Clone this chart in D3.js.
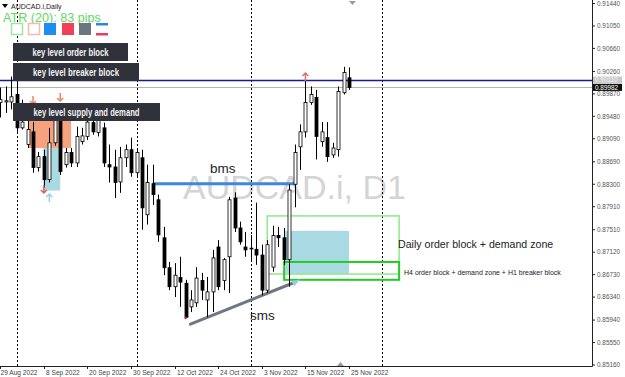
<!DOCTYPE html>
<html>
<head>
<meta charset="utf-8"/>
<title>AUDCAD.i Daily</title>
<script src="https://d3js.org/d3.v7.min.js"></script>
<style>
body{margin:0;background:#fff;}
svg{display:block;font-family:"Liberation Sans",Arial,sans-serif;}
</style>
</head>
<body>
<div id="chart"></div>
<script>
// one bar per trading day, index 0 = 29 Aug 2022, index 64 = 25 Nov 2022
var opens = [0.8972,0.8973,0.8973,0.8986,0.8928,0.8899,0.8921,0.8859,0.8878,0.8838,
    0.8902,0.8963,0.8864,0.8885,0.8867,0.8904,0.8913,0.8937,0.8920,0.8928,
    0.8864,0.8860,0.8834,0.8876,0.8890,0.8850,0.8876,0.8777,0.8831,0.8803,
    0.8737,0.8685,0.8652,0.8668,0.8658,0.8617,0.8624,0.8663,0.8629,0.8643,
    0.8721,0.8663,0.8704,0.8806,0.8754,0.8721,0.8719,0.8717,0.8707,0.8646,
    0.8686,0.8741,0.8737,0.8699,0.8830,0.8895,0.8921,0.8972,0.8981,0.8904,
    0.8911,0.8881,0.8890,0.8989,0.9015];
var highs = [0.8998,0.9000,0.9017,0.9017,0.8977,0.8942,0.8938,0.8886,0.8890,0.8928,
    0.8968,0.8970,0.8893,0.8893,0.8930,0.8928,0.8946,0.8954,0.8956,0.8937,
    0.8899,0.8890,0.8895,0.8899,0.8911,0.8890,0.8890,0.8864,0.8864,0.8812,
    0.8756,0.8695,0.8693,0.8704,0.8664,0.8646,0.8686,0.8676,0.8669,0.8716,
    0.8733,0.8702,0.8808,0.8816,0.8765,0.8747,0.8742,0.8798,0.8725,0.8733,
    0.8758,0.8756,0.8754,0.8830,0.8899,0.8934,0.9020,0.9000,0.8994,0.8938,
    0.8938,0.8902,0.9000,0.9034,0.9033];
var lows = [0.8946,0.8954,0.8960,0.8921,0.8925,0.8893,0.8850,0.8852,0.8824,0.8833,
    0.8897,0.8846,0.8859,0.8860,0.8860,0.8899,0.8907,0.8916,0.8913,0.8860,
    0.8833,0.8806,0.8815,0.8860,0.8843,0.8843,0.8751,0.8760,0.8794,0.8730,
    0.8672,0.8646,0.8634,0.8617,0.8598,0.8608,0.8617,0.8629,0.8599,0.8608,
    0.8646,0.8646,0.8641,0.8747,0.8725,0.8704,0.8695,0.8690,0.8637,0.8641,
    0.8678,0.8721,0.8690,0.8652,0.8790,0.8855,0.8911,0.8968,0.8873,0.8895,
    0.8869,0.8876,0.8878,0.8986,0.8994];
var closes = [0.8977,0.8975,0.8982,0.8928,0.8938,0.8925,0.8859,0.8878,0.8838,0.8902,
    0.8946,0.8852,0.8885,0.8867,0.8913,0.8914,0.8938,0.8921,0.8942,0.8867,
    0.8860,0.8833,0.8876,0.8890,0.8850,0.8885,0.8789,0.8833,0.8812,0.8742,
    0.8685,0.8652,0.8672,0.8660,0.8599,0.8629,0.8667,0.8646,0.8643,0.8702,
    0.8652,0.8699,0.8803,0.8754,0.8730,0.8716,0.8719,0.8707,0.8646,0.8725,
    0.8741,0.8737,0.8699,0.8820,0.8885,0.8921,0.8972,0.8986,0.8913,0.8921,
    0.8878,0.8893,0.8991,0.9024,0.89982];

var dateLabels = ["29 Aug 2022","8 Sep 2022","20 Sep 2022","30 Sep 2022","12 Oct 2022",
    "24 Oct 2022","3 Nov 2022","15 Nov 2022","25 Nov 2022"];
var dateIdx = [0,8,16,24,32,40,48,56,64];
var priceTicks = [0.91440,0.91050,0.90660,0.90260,0.89870,0.89480,0.89090,0.88690,
    0.88300,0.87910,0.87510,0.87120,0.86730,0.86340,0.85940,0.85550,0.85160];
// month separators (bar index)
var separatorIdx = [3,25,46,70];

// drawn objects, in bar index / price
var levelPrice = 0.9011;      // horizontal navy line
var bidPrice = 0.89982;
var bms = [28, 54.3, 0.8831];
var sms = [[34.9, 0.8587], [53.6, 0.8658]];
var supplyZone = [5.1, 13.0, 0.8970, 0.8893];
var demandZoneLeft = [7.9, 11.0, 0.8893, 0.8819];
var dailyOB = [49.0, 73.2, 0.8775, 0.8674];
var dailyFill = [52.3, 64.0, 0.8749, 0.8674];
var h4OB = [52.1, 73.2, 0.8695, 0.8664];

var W = 625, H = 377, plotW = 592, plotH = 366;

var svg = d3.select("#chart").append("svg")
    .attr("width", W).attr("height", H);

var x = d3.scaleLinear().domain([0, 64]).range([0.3, 349]);
var y = d3.scaleLinear().domain([0.8516, 0.9144]).range([365, 3.5]);

svg.append("clipPath").attr("id", "clip")
    .append("rect").attr("width", plotW).attr("height", plotH);

var plot = svg.append("g").attr("clip-path", "url(#clip)");

// watermark
plot.append("text")
    .attr("x", 183).attr("y", 199)
    .style("font-size", "34px")
    .style("fill", "#d4d4d4")
    .text("AUDCAD.i, D1");

// separators
plot.selectAll(".sep").data(separatorIdx).enter().append("line")
    .attr("x1", function(d){ return Math.round(x(d)) + 0.5; })
    .attr("x2", function(d){ return Math.round(x(d)) + 0.5; })
    .attr("y1", 0).attr("y2", plotH)
    .attr("stroke", "#000").attr("stroke-width", 1)
    .attr("stroke-dasharray", "2,2");

function zone(z, fill, stroke, sw) {
    plot.append("rect")
        .attr("x", x(z[0])).attr("y", y(z[2]))
        .attr("width", x(z[1]) - x(z[0]))
        .attr("height", y(z[3]) - y(z[2]))
        .attr("fill", fill)
        .attr("stroke", stroke)
        .attr("stroke-width", sw);
}
zone(supplyZone, "#f7a27f", "none", 0);
zone(demandZoneLeft, "#a9d9e3", "none", 0);
zone(dailyFill, "#a9d9e3", "none", 0);
zone(dailyOB, "none", "#93ea93", 1.6);
zone(h4OB, "none", "#22cc22", 2);

// horizontal lines
plot.append("line").attr("x1", 0).attr("x2", plotW)
    .attr("y1", Math.round(y(bidPrice)) + 0.5).attr("y2", Math.round(y(bidPrice)) + 0.5)
    .attr("stroke", "#b4b4b4").attr("stroke-width", 1);
plot.append("line").attr("x1", 0).attr("x2", plotW)
    .attr("y1", Math.round(y(levelPrice)) + 0.5).attr("y2", Math.round(y(levelPrice)) + 0.5)
    .attr("stroke", "#1b1b8a").attr("stroke-width", 1.3);

// bms / sms lines
plot.append("line")
    .attr("x1", x(bms[0])).attr("x2", x(bms[1]))
    .attr("y1", y(bms[2])).attr("y2", y(bms[2]))
    .attr("stroke", "#3b88dc").attr("stroke-width", 3);
plot.append("line")
    .attr("x1", x(sms[0][0])).attr("y1", y(sms[0][1]))
    .attr("x2", x(sms[1][0])).attr("y2", y(sms[1][1]))
    .attr("stroke", "#6e7885").attr("stroke-width", 3)
    .attr("stroke-linecap", "round");
// arrow head at end of sms
var ax = x(sms[1][0]), ay = y(sms[1][1]);
plot.append("path")
    .attr("d", "M" + (ax + 8) + "," + (ay - 4) + " L" + (ax - 1) + "," + (ay - 2) + " L" + (ax + 2) + "," + (ay + 3) + "Z")
    .attr("fill", "#8fcfe0");

plot.append("text").attr("x", 210).attr("y", 172.5)
    .style("font-size", "13.5px").style("fill", "#222").text("bms");
plot.append("text").attr("x", 250).attr("y", 320)
    .style("font-size", "13.5px").style("fill", "#222").text("sms");

// candles
var bars = opens.map(function(o, i){
    return {i: i, o: o, h: highs[i], l: lows[i], c: closes[i]};
});
var candle = plot.selectAll(".bar").data(bars).enter().append("g");
candle.append("line")
    .attr("x1", function(d){ return Math.round(x(d.i)) + 0.5; })
    .attr("x2", function(d){ return Math.round(x(d.i)) + 0.5; })
    .attr("y1", function(d){ return y(d.h); })
    .attr("y2", function(d){ return y(d.l); })
    .attr("stroke", "#000").attr("stroke-width", 1);
candle.append("rect")
    .attr("x", function(d){ return Math.round(x(d.i)) - 1; })
    .attr("y", function(d){ return y(Math.max(d.o, d.c)); })
    .attr("width", 3)
    .attr("height", function(d){ return Math.max(0.8, Math.abs(y(d.o) - y(d.c))); })
    .attr("fill", function(d){ return d.c >= d.o ? "#fff" : "#000"; })
    .attr("stroke", "#000").attr("stroke-width", 0.8);

// small markers
function arrowDown(cx, cy, col) {
    plot.append("path")
        .attr("d", "M" + cx + "," + (cy - 5) + " L" + cx + "," + (cy + 3) + " M" + (cx - 3) + "," + cy + " L" + cx + "," + (cy + 3) + " L" + (cx + 3) + "," + cy)
        .attr("stroke", col).attr("stroke-width", 1.5).attr("fill", "none");
}
function arrowUp(cx, cy, col) {
    plot.append("path")
        .attr("d", "M" + cx + "," + (cy + 5) + " L" + cx + "," + (cy - 3) + " M" + (cx - 3) + "," + cy + " L" + cx + "," + (cy - 3) + " L" + (cx + 3) + "," + cy)
        .attr("stroke", col).attr("stroke-width", 1.5).attr("fill", "none");
}
arrowDown(x(6), 101, "#ef8466");
arrowDown(x(11), 98, "#ef8466");
arrowDown(x(8), 190, "#e06060");
arrowUp(x(9), 197, "#95d3e3");
arrowUp(x(56), 76, "#e07070");
plot.append("circle").attr("cx", x(34)).attr("cy", 318).attr("r", 1.3).attr("fill", "#e03030");

// labels of drawn zones
plot.append("text").attr("x", 398).attr("y", 247.5)
    .style("font-size", "10.6px").style("fill", "#222")
    .text("Daily order block + demand zone");
plot.append("text").attr("x", 404).attr("y", 274.5)
    .style("font-size", "7px").style("fill", "#222")
    .text("H4 order block + demand zone + H1 breaker block");

// key level boxes
var keyBoxes = [
    {t: "key level order block", x0: 13, x1: 128, y0: 43, tw: 76},
    {t: "key level breaker block", x0: 13, x1: 139, y0: 63, tw: 86},
    {t: "key level supply and demand", x0: 13, x1: 160, y0: 103, tw: 106}
];
keyBoxes.forEach(function(b){
    svg.append("rect").attr("x", b.x0).attr("y", b.y0)
        .attr("width", b.x1 - b.x0).attr("height", 18)
        .attr("fill", "#30323b");
    svg.append("text")
        .attr("x", (b.x0 + b.x1) / 2).attr("y", b.y0 + 12.5)
        .attr("text-anchor", "middle")
        .attr("textLength", b.tw).attr("lengthAdjust", "spacingAndGlyphs")
        .style("font-size", "10.5px").style("font-weight", "bold")
        .style("fill", "#f2f2f2")
        .text(b.t);
});

// header
svg.append("path").attr("d", "M2,4 L8,4 L5,8 Z").attr("fill", "#000");
svg.append("text").attr("x", 11).attr("y", 9)
    .style("font-size", "7px").style("fill", "#222").text("AUDCAD.i,Daily");
svg.append("text").attr("x", 3).attr("y", 21.5)
    .style("font-size", "12.6px").style("fill", "#62d862").text("ATR (20): 83 pips");

svg.append("rect").attr("x", 11.5).attr("y", 23.5).attr("width", 11).attr("height", 11)
    .attr("fill", "#fff").attr("stroke", "#9de89d").attr("stroke-width", 1.5);
svg.append("rect").attr("x", 28.5).attr("y", 23.5).attr("width", 11).attr("height", 11)
    .attr("fill", "#fff").attr("stroke", "#f2b9b9").attr("stroke-width", 1.5);
svg.append("rect").attr("x", 44).attr("y", 23).attr("width", 12).attr("height", 12).attr("fill", "#1e8cf0");
svg.append("rect").attr("x", 62).attr("y", 23).attr("width", 12).attr("height", 12).attr("fill", "#f04158");
svg.append("rect").attr("x", 79).attr("y", 23).attr("width", 12).attr("height", 12).attr("fill", "#6c7682");
svg.append("rect").attr("x", 96).attr("y", 23).attr("width", 12).attr("height", 2.5).attr("fill", "#2e86de");
svg.append("rect").attr("x", 96).attr("y", 33).attr("width", 12).attr("height", 2.5).attr("fill", "#e8405a");

// shift markers
svg.append("path").attr("d", "M349,1 L356,1 L352.5,5 Z").attr("fill", "#9a9a9a");
svg.append("path").attr("d", "M337,366 L344,366 L340.5,362 Z").attr("fill", "#9a9a9a");

// axes
svg.append("line").attr("x1", plotW + 0.5).attr("x2", plotW + 0.5)
    .attr("y1", 0).attr("y2", plotH + 0.5).attr("stroke", "#222");
svg.append("line").attr("x1", 0).attr("x2", plotW + 0.5)
    .attr("y1", plotH + 0.5).attr("y2", plotH + 0.5).attr("stroke", "#222");

var yt = svg.selectAll(".yt").data(priceTicks).enter().append("g")
    .attr("transform", function(d){ return "translate(" + plotW + "," + y(d) + ")"; });
yt.append("line").attr("x1", 0).attr("x2", 3).attr("stroke", "#222");
yt.append("text").attr("x", 5).attr("dy", "0.35em")
    .style("font-size", "6.4px").style("fill", "#555")
    .text(function(d){ return d.toFixed(5); });

var xt = svg.selectAll(".xt").data(dateIdx).enter().append("g")
    .attr("transform", function(d){ return "translate(" + (Math.round(x(d)) + 0.5) + "," + plotH + ")"; });
xt.append("line").attr("y1", 0).attr("y2", 3).attr("stroke", "#222");
xt.append("text").attr("x", function(d, i){ return i === 0 ? 0 : 1.5; }).attr("y", 8.8)
    .style("font-size", "6.6px").style("fill", "#444")
    .text(function(d, i){ return dateLabels[i]; });

// price boxes on the axis
svg.append("rect").attr("x", 593).attr("y", y(levelPrice) - 3.5).attr("width", 29).attr("height", 7)
    .attr("fill", "#c8c8c8");
svg.append("text").attr("x", 595).attr("y", y(levelPrice)).attr("dy", "0.35em")
    .style("font-size", "6.4px").style("fill", "#f4f4f4").text(levelPrice.toFixed(5));
svg.append("rect").attr("x", 593).attr("y", y(bidPrice) - 3.5).attr("width", 29).attr("height", 7)
    .attr("fill", "#111");
svg.append("text").attr("x", 595).attr("y", y(bidPrice)).attr("dy", "0.35em")
    .style("font-size", "6.4px").style("fill", "#fff").text(bidPrice.toFixed(5));
</script>
</body>
</html>
